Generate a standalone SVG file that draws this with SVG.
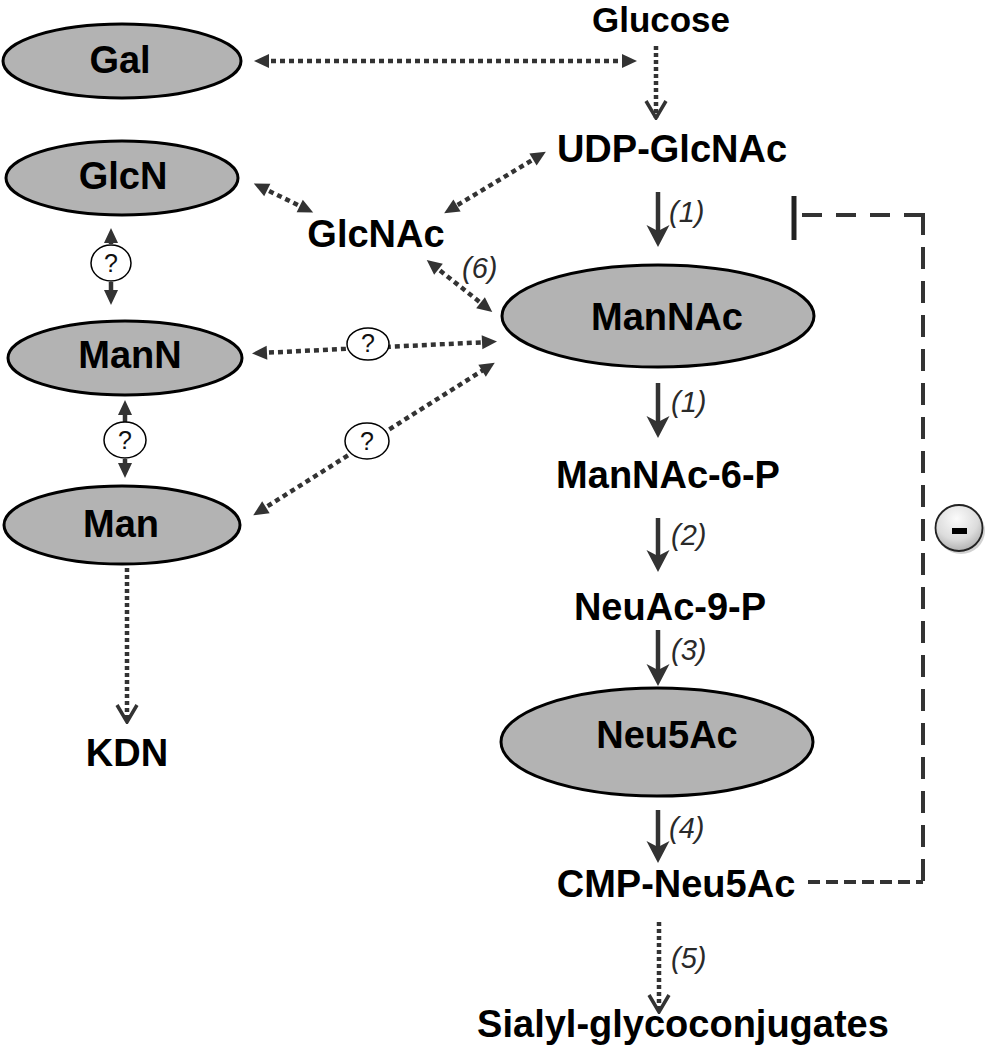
<svg xmlns="http://www.w3.org/2000/svg" width="988" height="1050" viewBox="0 0 988 1050">
<defs>
<style>
.node{fill:#b3b3b3;stroke:#000;stroke-width:3}
.lbl{font-family:"Liberation Sans",Arial,sans-serif;font-weight:bold;font-size:38px;fill:#000;text-anchor:middle}
.num{font-family:"Liberation Sans",Arial,sans-serif;font-style:italic;font-size:29px;fill:#2a2a2a}
.q{fill:#fff;stroke:#000;stroke-width:1.5}
.qt{font-family:"Liberation Sans",Arial,sans-serif;font-size:25px;fill:#111;text-anchor:middle}
.solid{fill:none;stroke:#333;stroke-width:4.5;marker-end:url(#hSolid)}
.dot{fill:none;stroke:#333;stroke-width:4.5;stroke-dasharray:5 4}
.vdot{stroke-dasharray:4 3}
.dbl{marker-start:url(#hDot);marker-end:url(#hDot)}
.one{marker-end:url(#hDot)}
.chev{marker-end:url(#hChev)}
.dash{fill:none;stroke:#333;stroke-width:4}
</style>
<marker id="hSolid" markerUnits="userSpaceOnUse" viewBox="-24 -13 26 26" markerWidth="26" markerHeight="26" refX="-12" refY="0" orient="auto">
<path d="M0,0 L-22,-11.5 L-16,0 L-22,11.5 Z" fill="#333"/>
</marker>
<marker id="hDot" markerUnits="userSpaceOnUse" viewBox="-17 -9 19 18" markerWidth="19" markerHeight="18" refX="-8" refY="0" orient="auto-start-reverse">
<path d="M0,0 L-15,-7 L-15,7 Z" fill="#333"/>
</marker>
<marker id="hChev" markerUnits="userSpaceOnUse" viewBox="-20 -12 22 24" markerWidth="22" markerHeight="24" refX="0" refY="0" orient="auto">
<path d="M-17,-10 L0,0 L-17,10" fill="none" stroke="#333" stroke-width="3.5"/>
</marker>
<radialGradient id="gMinus" cx="0.45" cy="0.3" r="0.75">
<stop offset="0" stop-color="#fbfbfb"/>
<stop offset="0.6" stop-color="#dcdcdc"/>
<stop offset="1" stop-color="#a8a8a8"/>
</radialGradient>
</defs>

<g id="connectors">
<path class="solid" d="M658,192 L658,235"/>
<path class="solid" d="M658,383 L658,426"/>
<path class="solid" d="M658,518 L658,560"/>
<path class="solid" d="M658,630 L658,674"/>
<path class="solid" d="M658,810 L658,851"/>
<path class="dot dbl" d="M262,61 L629,61"/>
<path class="dot vdot chev" d="M656,46 L656,118"/>
<path class="dot dbl" d="M539,156 L451,209"/>
<path class="dot dbl" d="M261,187 L306,209"/>
<path class="dot dbl" d="M433,265 L486,307"/>
<path class="dot dbl" d="M260,353 L489,342"/>
<path class="dot dbl" d="M260,511 L488,367"/>
<path class="dot vdot chev" d="M127,568 L127,722"/>
<path class="dot vdot chev" d="M659,922 L659,1012"/>
<path class="dot one" d="M111,244 L111,236" style="stroke-dasharray:none"/>
<path class="dot one" d="M111,282 L111,297" style="stroke-dasharray:none"/>
<path class="dot one" d="M125,422 L125,408" style="stroke-dasharray:none"/>
<path class="dot one" d="M125,459 L125,470" style="stroke-dasharray:none"/>
<path class="dash" d="M802,215 L923,215" stroke-dasharray="20 14"/>
<path class="dash" d="M923,213 L923,884" stroke-dasharray="22 12"/>
<path class="dash" d="M808,882 L923,882" stroke-dasharray="12 6"/>
<line x1="794" y1="196" x2="794" y2="240" stroke="#222" stroke-width="5"/>
</g>

<g id="q1"><ellipse class="q" cx="111" cy="263" rx="20" ry="18"/><text class="qt" x="111" y="272">?</text></g>
<g id="q2"><ellipse class="q" cx="125" cy="440" rx="21" ry="18"/><text class="qt" x="125" y="449">?</text></g>
<g id="q3"><ellipse class="q" cx="368" cy="344" rx="21" ry="16"/><text class="qt" x="368" y="352">?</text></g>
<g id="q4"><ellipse class="q" cx="367" cy="441" rx="22" ry="18"/><text class="qt" x="367" y="450">?</text></g>

<g id="Gal"><ellipse class="node" cx="122" cy="61" rx="119" ry="37"/><text class="lbl" x="120" y="73">Gal</text></g>
<g id="GlcN"><ellipse class="node" cx="122" cy="178" rx="116" ry="37"/><text class="lbl" x="123" y="189">GlcN</text></g>
<g id="ManN"><ellipse class="node" cx="125" cy="358" rx="117" ry="37"/><text class="lbl" x="130" y="368">ManN</text></g>
<g id="Man"><ellipse class="node" cx="122" cy="525" rx="118" ry="39"/><text class="lbl" x="121" y="537">Man</text></g>
<g id="ManNAc"><ellipse class="node" cx="658" cy="316" rx="156" ry="51"/><text class="lbl" x="667" y="330">ManNAc</text></g>
<g id="Neu5Ac"><ellipse class="node" cx="657" cy="742" rx="156" ry="54"/><text class="lbl" x="667" y="748">Neu5Ac</text></g>

<g id="Glucose"><text class="lbl" x="661" y="32" style="font-size:35px">Glucose</text></g>
<g id="UDP-GlcNAc"><text class="lbl" x="672" y="162">UDP-GlcNAc</text></g>
<g id="GlcNAc"><text class="lbl" x="376" y="247">GlcNAc</text></g>
<g id="ManNAc-6-P"><text class="lbl" x="668" y="488">ManNAc-6-P</text></g>
<g id="NeuAc-9-P"><text class="lbl" x="670" y="620">NeuAc-9-P</text></g>
<g id="CMP-Neu5Ac"><text class="lbl" x="676" y="897">CMP-Neu5Ac</text></g>
<g id="Sialyl"><text class="lbl" x="683" y="1037">Sialyl-glycoconjugates</text></g>
<g id="KDN"><text class="lbl" x="127" y="766">KDN</text></g>

<g id="steps">
<text class="num" x="669" y="222">(1)</text>
<text class="num" x="671" y="412">(1)</text>
<text class="num" x="671" y="545">(2)</text>
<text class="num" x="671" y="660">(3)</text>
<text class="num" x="669" y="838">(4)</text>
<text class="num" x="671" y="968">(5)</text>
<text class="num" x="462" y="278">(6)</text>
</g>

<g id="minus">
<ellipse cx="961" cy="531" rx="24" ry="23" fill="#000" opacity="0.18"/>
<ellipse cx="959" cy="528" rx="23.5" ry="23" fill="url(#gMinus)" stroke="#222" stroke-width="1.8"/>
<rect x="952" y="528" width="15" height="6" fill="#000"/>
</g>
</svg>
